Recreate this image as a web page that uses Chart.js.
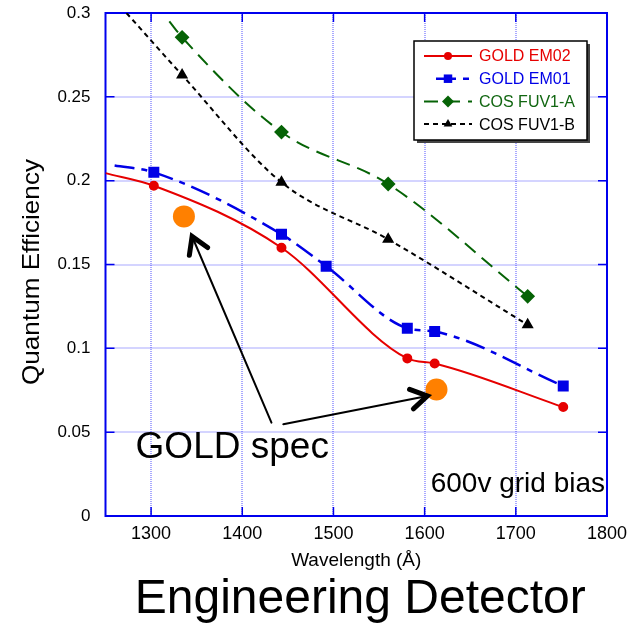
<!DOCTYPE html>
<html>
<head>
<meta charset="utf-8">
<script src="https://cdn.jsdelivr.net/npm/chart.js@4.4.1/dist/chart.umd.min.js"></script>
<style>
    html, body { margin: 0; padding: 0; background: #fff; }
</style>
</head>
<body>
<canvas id="qeChart" width="641" height="623"></canvas>
<script>
// values (first point of each curve is the fit end, no marker)
const em02Wave = [1250, 1303, 1443, 1581, 1611, 1752];
const em02QE   = [0.2045, 0.197, 0.160, 0.094, 0.091, 0.065];
const em01Wave = [1260, 1303, 1443, 1492, 1581, 1611, 1752];
const em01QE   = [0.209, 0.205, 0.168, 0.149, 0.112, 0.110, 0.0775];
const cosWaveA = [1320, 1334, 1443, 1560, 1713];
const cosAQE   = [0.295, 0.2855, 0.229, 0.198, 0.131];
const cosWaveB = [1273, 1334, 1443, 1560, 1713];
const cosBQE   = [0.300, 0.263, 0.199, 0.165, 0.114];
const specWave = [1336, 1613];
const specQE   = [0.1787, 0.0755];

const xTicks = [1300, 1400, 1500, 1600, 1700, 1800];
const yTicks = [0, 0.05, 0.1, 0.15, 0.2, 0.25, 0.3];

// annotation arrows (data coords): tail near the label, head at the spec dot
const arrowTails = [[1432, 0.0557], [1445, 0.0547]];
const arrowHeads = [[1345, 0.1667], [1603, 0.0716]];

const FONT = "'Liberation Sans', Arial, Helvetica, sans-serif";

function toPoints(xs, ys) {
    return xs.map((x, i) => ({ x: x, y: ys[i] }));
}

function drawMarker(ctx, style, x, y, r, color) {
    ctx.save();
    ctx.fillStyle = color;
    ctx.beginPath();
    if (style === 'circle') {
        ctx.arc(x, y, r, 0, Math.PI * 2);
    } else if (style === 'rect') {
        const s = r * Math.SQRT1_2;
        ctx.rect(x - s, y - s, 2 * s, 2 * s);
    } else if (style === 'rectRot') {
        ctx.moveTo(x, y - r);
        ctx.lineTo(x + r, y);
        ctx.lineTo(x, y + r);
        ctx.lineTo(x - r, y);
        ctx.closePath();
    } else if (style === 'triangle') {
        ctx.moveTo(x, y - r);
        ctx.lineTo(x + r * 0.87, y + r * 0.5);
        ctx.lineTo(x - r * 0.87, y + r * 0.5);
        ctx.closePath();
    }
    ctx.fill();
    ctx.restore();
}

const noFirst = r => (ctx => ctx.dataIndex === 0 ? 0 : r);

const decorPlugin = {
    id: 'decor',
    beforeDatasetsDraw(chart) {
        const { ctx, chartArea: a, scales: { x, y } } = chart;
        ctx.save();

        // dotted grid
        ctx.strokeStyle = 'rgba(40,40,255,0.8)';
        ctx.lineWidth = 1;
        ctx.setLineDash([1, 1]);
        ctx.beginPath();
        xTicks.forEach(v => {
            const px = Math.round(x.getPixelForValue(v));
            ctx.moveTo(px, a.top); ctx.lineTo(px, a.bottom);
        });
        yTicks.forEach(v => {
            const py = Math.round(y.getPixelForValue(v));
            ctx.moveTo(a.left, py); ctx.lineTo(a.right, py);
        });
        ctx.stroke();
        ctx.setLineDash([]);

        // inner tick marks and frame
        ctx.strokeStyle = '#0000ee';
        ctx.lineWidth = 1.5;
        ctx.beginPath();
        xTicks.forEach(v => {
            const px = x.getPixelForValue(v);
            ctx.moveTo(px, a.bottom); ctx.lineTo(px, a.bottom - 9);
            ctx.moveTo(px, a.top); ctx.lineTo(px, a.top + 9);
        });
        yTicks.forEach(v => {
            const py = y.getPixelForValue(v);
            ctx.moveTo(a.left, py); ctx.lineTo(a.left + 9, py);
            ctx.moveTo(a.right, py); ctx.lineTo(a.right - 9, py);
        });
        ctx.stroke();
        ctx.lineWidth = 2;
        ctx.strokeRect(a.left, a.top, a.right - a.left, a.bottom - a.top);
        ctx.restore();
    },
    afterDatasetsDraw(chart) {
        const { ctx, chartArea: a, scales: { x, y } } = chart;
        ctx.save();

        // arrows to the spec points
        ctx.strokeStyle = '#000';
        ctx.lineCap = 'round';
        arrowTails.forEach((t, i) => {
            const x0 = x.getPixelForValue(t[0]), y0 = y.getPixelForValue(t[1]);
            const x1 = x.getPixelForValue(arrowHeads[i][0]), y1 = y.getPixelForValue(arrowHeads[i][1]);
            ctx.lineWidth = 2;
            ctx.beginPath();
            ctx.moveTo(x0, y0);
            ctx.lineTo(x1, y1);
            ctx.stroke();
            const ang = Math.atan2(y0 - y1, x0 - x1);
            ctx.lineWidth = 5;
            ctx.beginPath();
            ctx.moveTo(x1 + 19 * Math.cos(ang + 0.55), y1 + 19 * Math.sin(ang + 0.55));
            ctx.lineTo(x1, y1);
            ctx.lineTo(x1 + 19 * Math.cos(ang - 0.55), y1 + 19 * Math.sin(ang - 0.55));
            ctx.stroke();
        });

        ctx.fillStyle = '#000';
        ctx.textBaseline = 'alphabetic';
        ctx.font = '37px ' + FONT;
        ctx.textAlign = 'left';
        ctx.fillText('GOLD spec', x.getPixelForValue(1283), y.getPixelForValue(0.0344));
        ctx.font = '28px ' + FONT;
        ctx.textAlign = 'right';
        ctx.fillText('600v grid bias', a.right - 2, y.getPixelForValue(0.0143));

        // legend box
        const bx = 414, by = 41, bw = 173, bh = 99;
        ctx.fillStyle = '#444';
        ctx.fillRect(bx + 3, by + 3, bw, bh);
        ctx.fillStyle = '#fff';
        ctx.fillRect(bx, by, bw, bh);
        ctx.strokeStyle = '#000';
        ctx.lineWidth = 1.5;
        ctx.lineCap = 'butt';
        ctx.strokeRect(bx, by, bw, bh);
        ctx.font = '16px ' + FONT;
        ctx.textAlign = 'left';
        ctx.textBaseline = 'middle';
        chart.data.datasets.slice(0, 4).forEach((ds, i) => {
            const ry = 56 + i * 22.7;
            const x0 = ds.borderDash && ds.borderDash.length === 4 ? 436 : 424;
            ctx.strokeStyle = ds.borderColor;
            ctx.lineWidth = ds.borderWidth;
            ctx.setLineDash(ds.borderDash || []);
            ctx.beginPath();
            ctx.moveTo(x0, ry);
            ctx.lineTo(472, ry);
            ctx.stroke();
            ctx.setLineDash([]);
            drawMarker(ctx, ds.pointStyle, 448, ry, ds.legendRadius, ds.borderColor);
            ctx.fillStyle = ds.legendText;
            ctx.fillText(ds.label, 479, ry + 1);
        });

        // y axis title, slightly stretched like the original
        ctx.fillStyle = '#000';
        ctx.font = '24px ' + FONT;
        ctx.textAlign = 'center';
        ctx.textBaseline = 'alphabetic';
        const yt = 'Quantum Efficiency';
        const w = ctx.measureText(yt).width;
        ctx.translate(39, 272);
        ctx.rotate(-Math.PI / 2);
        ctx.scale(226 / w, 1);
        ctx.fillText(yt, 0, 0);
        ctx.restore();

        // bottom title
        ctx.save();
        ctx.fillStyle = '#000';
        ctx.font = '48px ' + FONT;
        ctx.textAlign = 'center';
        ctx.textBaseline = 'alphabetic';
        ctx.fillText('Engineering Detector', (a.left + a.right) / 2 + 4, 613);
        ctx.restore();
    }
};

const ctx = document.getElementById('qeChart').getContext('2d');
const qeChart = new Chart(ctx, {
    type: 'line',
    data: {
        datasets: [
            {
                label: 'GOLD EM02',
                data: toPoints(em02Wave, em02QE),
                borderColor: '#e60000',
                backgroundColor: '#e60000',
                legendText: '#e60000',
                borderWidth: 2,
                pointStyle: 'circle',
                pointRadius: noFirst(4),
                legendRadius: 4,
                cubicInterpolationMode: 'monotone'
            },
            {
                label: 'GOLD EM01',
                data: toPoints(em01Wave, em01QE),
                borderColor: '#0000e6',
                backgroundColor: '#0000e6',
                legendText: '#0000e6',
                borderWidth: 2.5,
                borderDash: [20, 7, 6, 7],
                pointStyle: 'rect',
                pointRadius: noFirst(6),
                legendRadius: 6,
                cubicInterpolationMode: 'monotone'
            },
            {
                label: 'COS FUV1-A',
                data: toPoints(cosWaveA, cosAQE),
                borderColor: '#066306',
                backgroundColor: '#066306',
                legendText: '#116611',
                borderWidth: 2,
                borderDash: [14, 8],
                pointStyle: 'rectRot',
                pointRadius: noFirst(6),
                legendRadius: 6,
                cubicInterpolationMode: 'monotone'
            },
            {
                label: 'COS FUV1-B',
                data: toPoints(cosWaveB, cosBQE),
                borderColor: '#000000',
                backgroundColor: '#000000',
                legendText: '#000000',
                borderWidth: 2,
                borderDash: [5, 4],
                pointStyle: 'triangle',
                pointRadius: noFirst(5),
                legendRadius: 5,
                cubicInterpolationMode: 'monotone'
            },
            {
                label: 'GOLD spec',
                type: 'scatter',
                data: toPoints(specWave, specQE),
                showLine: false,
                borderColor: '#ff8000',
                backgroundColor: '#ff8000',
                pointRadius: 11,
                pointBorderWidth: 0
            }
        ]
    },
    options: {
        responsive: false,
        animation: false,
        devicePixelRatio: 1,
        layout: { padding: { left: 12, top: 13, right: 34, bottom: 51 } },
        plugins: {
            legend: { display: false },
            tooltip: { enabled: false },
            title: { display: false }
        },
        elements: { point: { borderWidth: 0 } },
        scales: {
            x: {
                type: 'linear',
                min: 1250,
                max: 1800,
                afterBuildTicks: scale => { scale.ticks = xTicks.map(v => ({ value: v })); },
                afterFit: scale => { scale.height = 56; },
                ticks: {
                    color: '#000',
                    padding: 7,
                    maxRotation: 0,
                    font: { family: FONT, size: 18 },
                    callback: v => String(v)
                },
                grid: { display: false, drawTicks: false },
                border: { display: false },
                title: {
                    display: true,
                    text: 'Wavelength (Å)',
                    color: '#000',
                    padding: { top: 0, bottom: 0 },
                    font: { family: FONT, size: 19 }
                }
            },
            y: {
                min: 0,
                max: 0.3,
                afterBuildTicks: scale => { scale.ticks = yTicks.map(v => ({ value: v })); },
                afterFit: scale => {
                    scale.width = 93.5;
                    scale.paddingTop = 10;
                    scale.paddingBottom = 10;
                },
                ticks: {
                    color: '#000',
                    padding: 15,
                    font: { family: FONT, size: 17 },
                    callback: v => String(v)
                },
                grid: { display: false, drawTicks: false },
                border: { display: false }
            }
        }
    },
    plugins: [decorPlugin]
});
</script>
</body>
</html>
